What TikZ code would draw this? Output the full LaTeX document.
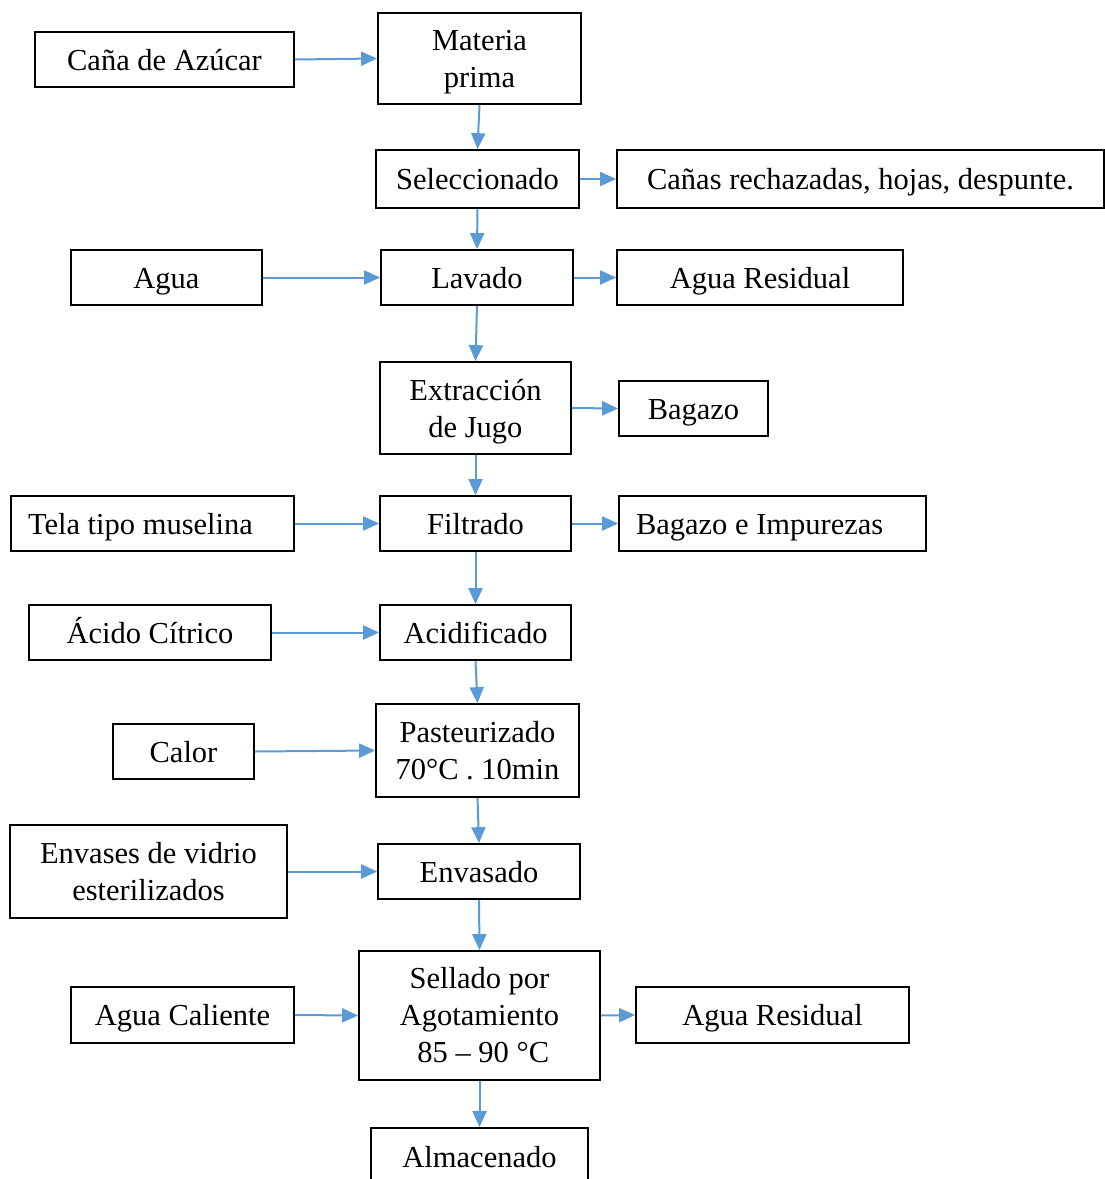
\documentclass[tikz,border=0pt]{standalone}
\usepackage{fontspec}
\setmainfont{Liberation Serif}
\usetikzlibrary{arrows.meta}
\definecolor{arrowblue}{RGB}{91,155,213}
\newcommand{\nodesc}[1]{\raisebox{0pt}[\height][0pt]{#1}}
\begin{document}
\begin{tikzpicture}[x=1pt,y=-1pt,
  box/.style={draw=black, line width=1.7pt, inner sep=0pt, align=center,
    font=\fontsize{30.5}{37}\selectfont},
  one/.style={box, text height=21pt, text depth=0pt},
  multi/.style={box},
  flow/.style={draw=arrowblue, line width=2pt, -{Triangle[length=16pt,width=14pt]}},
  sz/.style 2 args={minimum width=#1, minimum height=#2}]
\useasboundingbox (0,0) rectangle (1105,1179);
\clip (0,0) rectangle (1105,1179);

\node[one,sz={259pt}{55pt}] (cana) at (164.5,59.5) {Caña de Azúcar};
\node[multi,sz={203pt}{91pt}] (materia) at (479.5,58.5) {Materia\\\nodesc{prima}};
\node[one,sz={203pt}{58pt}] (selec) at (477.5,179) {Seleccionado};
\node[one,sz={487pt}{58pt}] (canas) at (860.5,179) {Cañas rechazadas, hojas, despunte.};
\node[one,sz={191pt}{55pt}] (agua) at (166.5,277.5) {Agua};
\node[one,sz={192pt}{55pt}] (lavado) at (477,277.5) {Lavado};
\node[one,sz={286pt}{55pt}] (aguares) at (760,277.5) {Agua Residual};
\node[multi,sz={191pt}{92pt}] (extr) at (475.5,408) {Extracción\\\nodesc{de Jugo}};
\node[one,sz={149pt}{55pt}] (bagazo) at (693.5,408.5) {Bagazo};
\node[one,sz={283pt}{55pt},inner xsep=17pt,text width=249pt,align=flush left] (tela) at (152.5,523.5) {Tela tipo muselina};
\node[one,sz={191pt}{55pt}] (filtrado) at (475.5,523.5) {Filtrado};
\node[one,sz={307pt}{55pt},inner xsep=17pt,text width=273pt,align=flush left] (bagimp) at (772.5,523.5) {Bagazo e Impurezas};
\node[one,sz={242pt}{55pt}] (acido) at (150,632.5) {Ácido Cítrico};
\node[one,sz={191pt}{55pt}] (acidif) at (475.5,632.5) {Acidificado};
\node[one,sz={141pt}{55pt}] (calor) at (183.5,751.5) {Calor};
\node[multi,sz={203pt}{93pt}] (pasteur) at (477.5,750.5) {Pasteurizado\\70°C . 10min};
\node[multi,sz={277pt}{93pt}] (envases) at (148.5,871.5) {Envases de vidrio\\esterilizados};
\node[one,sz={202pt}{55pt}] (envasado) at (479,871.5) {Envasado};
\node[one,sz={223pt}{56pt}] (aguacal) at (182.5,1015) {Agua Caliente};
\node[multi,sz={241pt}{129pt}] (sellado) at (479.5,1015.5) {Sellado por\\Agotamiento\\\ 85 – 90 °C};
\node[one,sz={273pt}{56pt}] (aguares2) at (772.5,1015) {Agua Residual};
\node[one,sz={217pt}{58pt}] (almac) at (479.5,1157) {Almacenado};

\draw[flow] (cana.east) -- (materia.west);
\draw[flow] (materia.south) -- (selec.north);
\draw[flow] (selec.east) -- (canas.west);
\draw[flow] (selec.south) -- (lavado.north);
\draw[flow] (agua.east) -- (lavado.west);
\draw[flow] (lavado.east) -- (aguares.west);
\draw[flow] (lavado.south) -- (extr.north);
\draw[flow] (extr.east) -- (bagazo.west);
\draw[flow] (extr.south) -- (filtrado.north);
\draw[flow] (tela.east) -- (filtrado.west);
\draw[flow] (filtrado.east) -- (bagimp.west);
\draw[flow] (filtrado.south) -- (acidif.north);
\draw[flow] (acido.east) -- (acidif.west);
\draw[flow] (acidif.south) -- (pasteur.north);
\draw[flow] (calor.east) -- (pasteur.west);
\draw[flow] (pasteur.south) -- (envasado.north);
\draw[flow] (envases.east) -- (envasado.west);
\draw[flow] (envasado.south) -- (sellado.north);
\draw[flow] (aguacal.east) -- (sellado.west);
\draw[flow] (sellado.east) -- (aguares2.west);
\draw[flow] (sellado.south) -- (almac.north);
\end{tikzpicture}
\end{document}
